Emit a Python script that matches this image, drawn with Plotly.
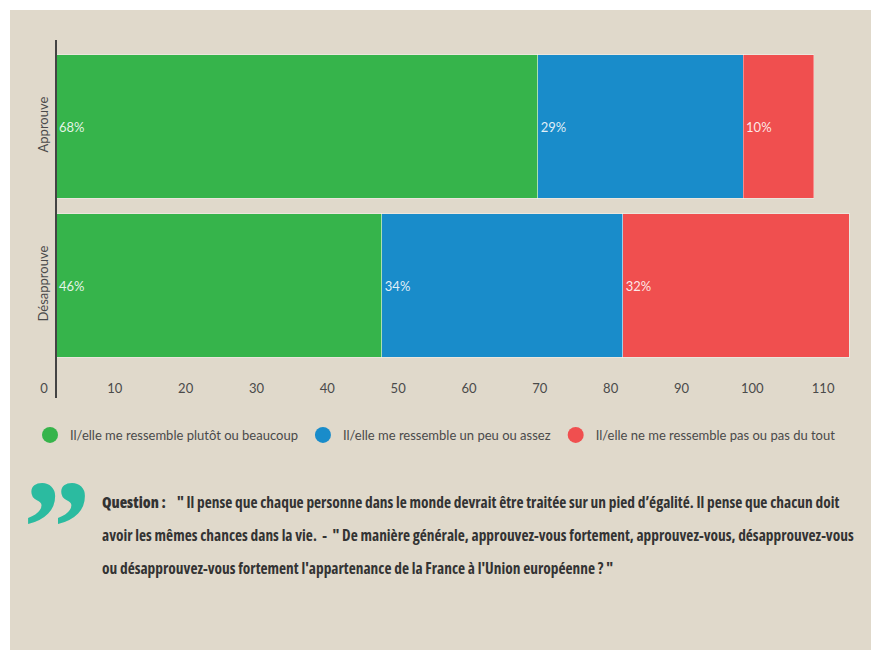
import plotly.graph_objects as go

# Survey breakdown: resemblance to the "equality" profile by opinion on EU membership
categories = ["Approuve", "Désapprouve"]
plutot_beaucoup = [68, 46]
peu_assez = [29, 34]
pas_du_tout = [10, 32]

series_names = [
    "Il/elle me ressemble plutôt ou beaucoup",
    "Il/elle me ressemble un peu ou assez",
    "Il/elle ne me ressemble pas ou pas du tout",
]
series_values = [plutot_beaucoup, peu_assez, pas_du_tout]
series_colors = ["#36b44b", "#198cca", "#f04f4f"]

x_ticks = list(range(0, 120, 10))

question_label = "Question :"
question_lines = [
    "\u00a0\u00a0\u00a0\u00a0\" Il pense que chaque personne dans le monde devrait être traitée sur un pied d’égalité. Il pense que chacun doit",
    "avoir les mêmes chances dans la vie.\u00a0\u00a0-\u00a0\u00a0\" De manière générale, approuvez-vous fortement, approuvez-vous, désapprouvez-vous",
    "ou désapprouvez-vous fortement l'appartenance de la France à l'Union européenne ? \"",
]

# Page geometry (pixels)
W, H = 871, 650
L, R, T, B = 56, 4, 47, 285
PW, PH = W - L - R, H - T - B
BG = "#e0d9cb"
TXT = "#4a4a4a"
CONDENSED = "font-family:'Open Sans';font-stretch:75%"


def px_x(px):
    return (px - L) / PW


def px_y(py):
    return (H - B - py) / PH


fig = go.Figure()

for name, vals, col in zip(series_names, series_values, series_colors):
    fig.add_trace(go.Bar(
        y=categories,
        x=vals,
        orientation="h",
        name=name,
        marker=dict(color=col, line=dict(color="rgba(255,255,255,0.35)", width=1)),
        text=[f"{v}%" for v in vals],
        textposition="inside",
        insidetextanchor="start",
        textfont=dict(family="Lato", size=13, color="rgba(255,255,255,0.88)"),
        showlegend=False,
        hoverinfo="skip",
    ))
    # round legend swatch
    fig.add_trace(go.Scatter(
        x=[None], y=[None], mode="markers", name=name,
        marker=dict(color=col, size=16, symbol="circle"),
        showlegend=True,
    ))

shapes = [
    # beige card with white edge on top and left
    dict(type="rect", xref="paper", yref="paper", layer="below",
         x0=px_x(10), x1=px_x(W + 5), y0=px_y(10), y1=px_y(H + 5),
         fillcolor=BG, line=dict(width=0)),
    # value axis baseline (vertical)
    dict(type="line", xref="paper", yref="paper",
         x0=0, x1=0, y0=px_y(40), y1=px_y(398),
         line=dict(color="#444444", width=2)),
]

# question text in a condensed bold face
texts = []
for i, line in enumerate(question_lines):
    if i == 0:
        body = (f'<span style="{CONDENSED};font-weight:800">{question_label}</span>'
                f'<span style="{CONDENSED}">{line}</span>')
    else:
        body = f'<span style="{CONDENSED}">{line}</span>'
    texts.append(body)

annotations = [
    dict(xref="paper", yref="paper", x=px_x(100), y=px_y(502 + 33 * i),
         xanchor="left", yanchor="middle", showarrow=False, text=body,
         font=dict(family="Open Sans", size=15.4, color="#333333", weight=700))
    for i, body in enumerate(texts)
]
annotations.append(dict(
    xref="paper", yref="paper", x=px_x(21), y=px_y(450),
    xanchor="left", yanchor="top", showarrow=False, text="”",
    font=dict(family="Liberation Serif", size=136, color="#2bbba0", weight=700),
))

fig.update_layout(
    width=W, height=H,
    margin=dict(l=L, r=R, t=T, b=B, pad=0),
    paper_bgcolor="white",
    plot_bgcolor=BG,
    barmode="stack",
    bargap=0.1,
    font=dict(family="Lato", size=13, color=TXT),
    xaxis=dict(
        range=[0, 114.5], tickvals=x_ticks, ticktext=[str(t) for t in x_ticks],
        showgrid=False, zeroline=False, showline=False, ticks="",
        ticklabelshift=-12, ticklabelstandoff=14,
        tickfont=dict(family="Lato", size=13, color=TXT),
        fixedrange=True,
    ),
    yaxis=dict(
        categoryorder="array", categoryarray=categories, autorange="reversed",
        showgrid=False, zeroline=False, showline=False, ticks="",
        tickangle=-90, ticklabelstandoff=4,
        tickfont=dict(family="Lato", size=13, color=TXT),
        fixedrange=True,
    ),
    legend=dict(
        orientation="h", traceorder="normal",
        x=px_x(30), y=px_y(420), xanchor="left", yanchor="top",
        bgcolor="rgba(0,0,0,0)", font=dict(family="Lato", size=13, color=TXT),
        itemclick=False, itemdoubleclick=False,
    ),
    shapes=shapes,
    annotations=annotations,
)

fig.write_html("out.html")
